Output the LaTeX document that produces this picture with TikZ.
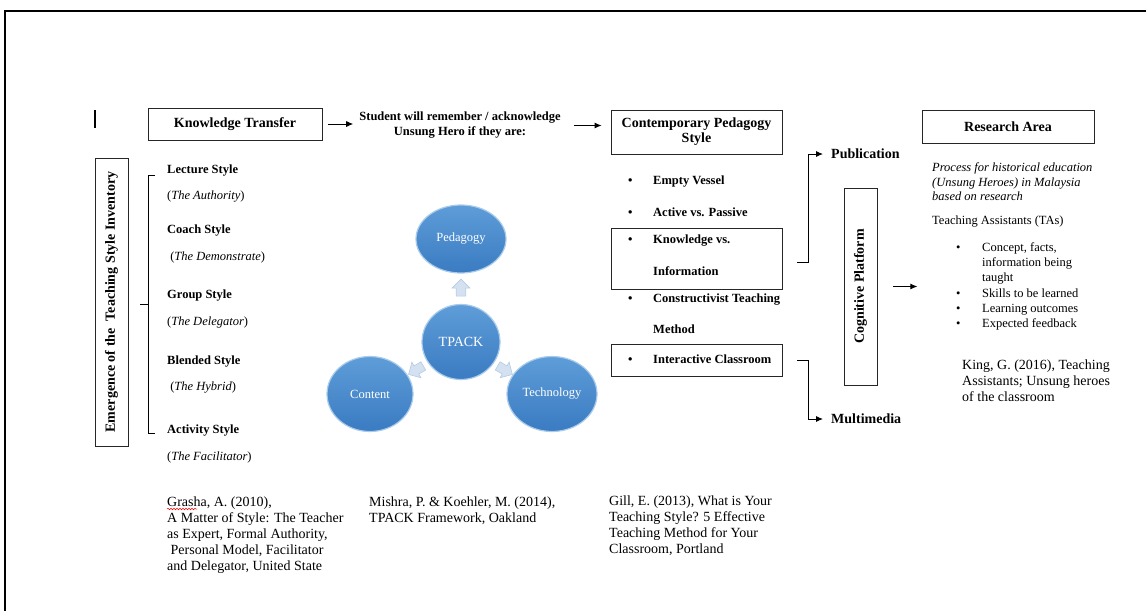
\documentclass[tikz,border=0pt]{standalone}
\usepackage{fontspec}
\setmainfont{Liberation Serif}
\usetikzlibrary{shapes.geometric, shapes.arrows, arrows.meta, decorations.pathmorphing}
\definecolor{bubbletop}{HTML}{5E9DD8}
\definecolor{bubblebot}{HTML}{3A7BC2}
\definecolor{bubbleedge}{HTML}{A9CBEB}
\definecolor{fadearrow}{HTML}{D3E1F1}
\definecolor{fadeedge}{HTML}{B5CBE5}
\newcommand{\bul}[1]{\makebox[#1][l]{\textbullet}}
\tikzset{hbox/.style = {draw=black!85, line width=0.8pt, align=center, inner sep=0,
    font=\fontsize{14}{15}\selectfont\bfseries}}
\tikzset{vbox/.style = {hbox, rotate=90}}
\tikzset{framebox/.style = {draw=black!85, line width=0.8pt, inner sep=0}}
\tikzset{sty/.style = {anchor=west, inner sep=0, font=\fontsize{12.5}{15}\selectfont\bfseries}}
\tikzset{role/.style = {anchor=west, inner sep=0, font=\fontsize{12.5}{15}\selectfont}}
\tikzset{outlbl/.style = {anchor=west, inner xsep=8pt, inner ysep=0, font=\fontsize{14}{16}\selectfont\bfseries}}
\tikzset{refs/.style = {anchor=north west, inner sep=0, align=left, font=\fontsize{14}{16}\selectfont}}
\tikzset{bubble/.style = {ellipse, top color=bubbletop, bottom color=bubblebot, draw=bubbleedge,
    line width=1.2pt, text=white, inner sep=0, font=\fontsize{12.5}{15}\selectfont}}
\tikzset{fade/.style = {single arrow, fill=fadearrow, draw=fadeedge, line width=0.6pt,
    minimum width=18pt, minimum height=17pt, single arrow head extend=3pt, inner sep=3pt}}
\tikzset{flow/.style = {-{Latex[length=7pt, width=6pt]}, line width=0.9pt}}

\begin{document}
\begin{tikzpicture}[x=1pt, y=-1pt]
    \useasboundingbox (0,0) rectangle (1146,611);
    \draw[line width=2pt] (1146,11) -- (5,11) -- (5,611);
    \draw[line width=1.2pt] (95,110) -- (95,128);

    % header row
    \node[hbox, minimum width=174, minimum height=32] (kt) at (235,124) {Knowledge Transfer};
    \node[sty, anchor=center, align=center] (stud) at (460,125.5)
        {Student will remember / acknowledge\\Unsung Hero if they are:};
    \node[hbox, minimum width=171, minimum height=44] (cps) at (696.5,132) {Contemporary Pedagogy\\Style};
    \node[hbox, minimum width=172, minimum height=33] (ra) at (1008,126.5) {Research Area};

    \draw[flow] ([xshift=6pt]kt.east) -- ([xshift=-6pt]kt.east -| stud.west);
    \draw[flow] ([xshift=13pt]stud.east) -- ([xshift=-9pt]stud.east -| cps.west);

    % teaching style inventory
    \node[vbox, minimum width=288, minimum height=33] (emer) at (111.5,302)
        {Emergence of the\ \ Teaching Style Inventory};
    \draw[line width=0.9pt] (155,175) -- (148,175) -- (148,433) -- (155,433);
    \draw[line width=0.9pt] (140,304) -- (148,304);

    \node[sty] (lec) at (167,171) {Lecture Style};
    \node[role] (lecr) at (167,197) {(\textit{The Authority})};
    \node[sty] (coa) at (167,231) {Coach Style};
    \node[role] (coar) at (167,257) {\ (\textit{The Demonstrate})};
    \node[sty] (gro) at (167,296) {Group Style};
    \node[role] (gror) at (167,322) {(\textit{The Delegator})};
    \node[sty] (ble) at (167,362) {Blended Style};
    \node[role] (bler) at (167,388) {\ (\textit{The Hybrid})};
    \node[sty] (act) at (167,431) {Activity Style};
    \node[role] (actr) at (167,457) {(\textit{The Facilitator})};

    % TPACK
    \node[bubble, minimum width=90, minimum height=68] (ped) at (461,239) {Pedagogy};
    \node[bubble, minimum width=78, minimum height=75, font=\fontsize{14}{16}\selectfont] (tpack) at (461,342) {TPACK};
    \node[bubble, minimum width=86, minimum height=75] (con) at (370,394) {Content};
    \node[bubble, minimum width=90, minimum height=75] (tec) at (552,394) {Technology};
    \node[fade, rotate=90] (arrped) at (461,290) {};
    \node[fade, rotate=210] (arrcon) at (418,369) {};
    \node[fade, rotate=-30] (arrtec) at (503,369) {};

    % contemporary pedagogy items
    \node[framebox, minimum width=171, minimum height=61] (kvbox) at (696.5,258.5) {};
    \node[framebox, minimum width=171, minimum height=32] (icbox) at (696.5,360) {};
    \node[sty] (ev) at (628,182) {\bul{25pt}Empty Vessel};
    \node[sty] (ap) at (628,212) {\bul{25pt}Active vs. Passive};
    \node[sty] (kv) at (628,241) {\bul{25pt}Knowledge vs.};
    \node[sty] (kvi) at (653,271) {Information};
    \node[sty] (ct) at (628,300) {\bul{25pt}Constructivist Teaching};
    \node[sty] (ctm) at (653,329) {Method};
    \node[sty] (ic) at (628,359) {\bul{25pt}Interactive Classroom};

    \node[outlbl] (pub) at (823,154) {Publication};
    \node[outlbl] (mm) at (823,419) {Multimedia};
    \draw[flow] ([xshift=15pt, yshift=-3.5pt]kvbox.east) -- ++(11,0) |- (pub.west);
    \draw[flow] ([xshift=15pt]icbox.east) -- ++(11,0) |- (mm.west);

    % research area
    \node[vbox, minimum width=197, minimum height=33] (cog) at (860.5,286.5) {Cognitive Platform};
    \draw[flow] ([xshift=16pt]cog.south) -- ([xshift=40pt]cog.south);
    \node[refs, font=\fontsize{12.5}{14.5}\selectfont\itshape] (proc) at (932,162.5)
        {Process for historical education\\(Unsung Heroes) in Malaysia\\based on research};
    \node[role] (tas) at (932,222) {Teaching Assistants (TAs)};
    \node[refs, font=\fontsize{12.5}{15.2}\selectfont] (tasl) at (956,242.5)
        {\bul{26pt}Concept, facts,\\\hspace*{26pt}information being\\\hspace*{26pt}taught\\
         \bul{26pt}Skills to be learned\\\bul{26pt}Learning outcomes\\\bul{26pt}Expected feedback};
    \node[refs] (king) at (962,360) {King, G. (2016), Teaching\\Assistants; Unsung heroes\\of the classroom};

    % references
    \node[refs] (grasha) at (167,497) {Grasha, A. (2010),\\A Matter of Style: The Teacher\\as Expert, Formal Authority,\\
        \ Personal Model, Facilitator\\and Delegator, United State};
    \draw[red, line width=0.5pt, decorate, decoration={snake, amplitude=0.8pt, segment length=3pt}] (167,509) -- (197,509);
    \node[refs] (mishra) at (369,497) {Mishra, P. \& Koehler, M. (2014),\\TPACK Framework, Oakland};
    \node[refs] (gill) at (609,496) {Gill, E. (2013), What is Your\\Teaching Style? 5 Effective\\Teaching Method for Your\\Classroom, Portland};
\end{tikzpicture}
\end{document}
